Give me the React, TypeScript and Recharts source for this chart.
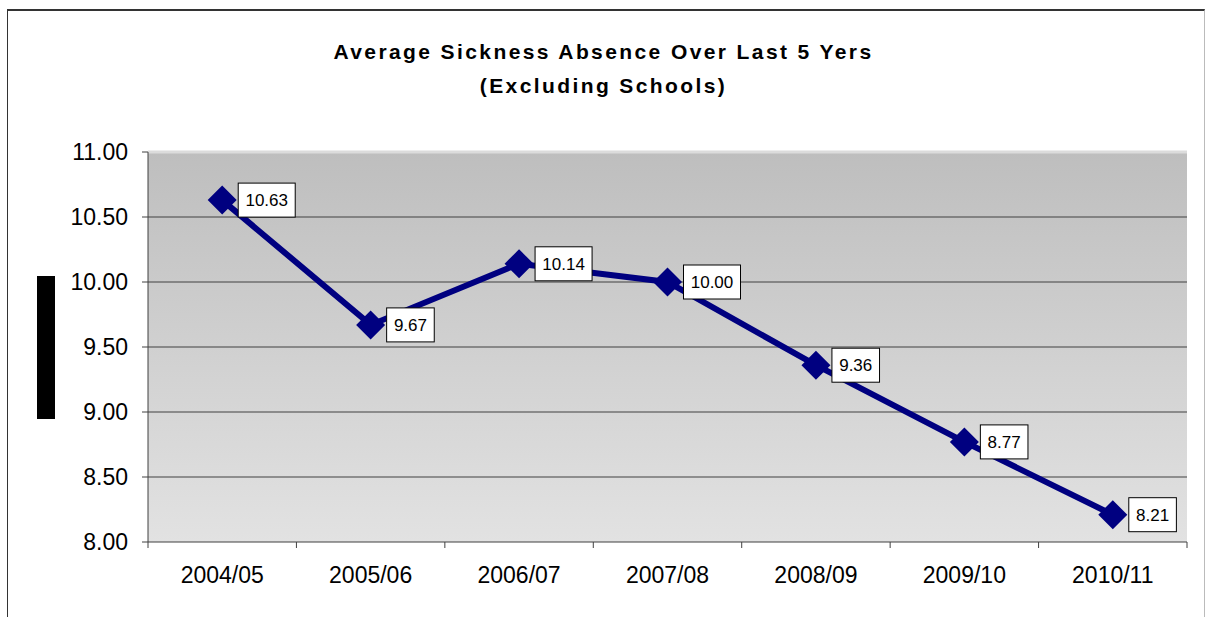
import React from 'react';
import { LineChart, Line, XAxis, YAxis, ReferenceArea, ReferenceLine, LabelList } from 'recharts';

const categories = ['2004/05', '2005/06', '2006/07', '2007/08', '2008/09', '2009/10', '2010/11'];
const absence = [10.63, 9.67, 10.14, 10.0, 9.36, 8.77, 8.21];
const yTicks = [8, 8.5, 9, 9.5, 10, 10.5, 11];
const titleLines = ['Average Sickness Absence Over Last 5 Yers', '(Excluding Schools)'];

const data = categories.map((c, i) => ({ i, cat: c, v: absence[i] }));
const xTicks: number[] = [];
for (let k = 0; k <= categories.length * 2; k++) xTicks.push(-0.5 + k * 0.5);
const gridValues = yTicks.slice(1, -1);

const FONT = '"Liberation Sans", Arial, sans-serif';
const NAVY = '#000080';

const XTick = (props: any) => {
  const { x, y, payload } = props;
  const v = payload.value as number;
  const axisY = y - 8;
  if (Math.abs(v - Math.round(v)) > 0.01) {
    return <line x1={x} x2={x} y1={axisY} y2={axisY + 6} stroke="#404040" strokeWidth={1} />;
  }
  return (
    <text x={x} y={y + 33} textAnchor="middle" fontSize={23} fontFamily={FONT} fill="#000">
      {categories[Math.round(v)]}
    </text>
  );
};

const Diamond = (props: any) => {
  const { cx, cy } = props;
  if (cx == null || cy == null) return null;
  const r = 14.5;
  return <polygon points={`${cx},${cy - r} ${cx + r},${cy} ${cx},${cy + r} ${cx - r},${cy}`} fill={NAVY} />;
};

const BoxLabel = (props: any) => {
  const { x, y, value } = props;
  const s = Number(value).toFixed(2);
  const w = s.length * 9.4 + 10;
  const h = 34;
  const bx = x + 16;
  return (
    <g>
      <rect x={bx} y={y - h / 2} width={w} height={h} fill="#fff" stroke="#000" strokeWidth={1} />
      <text x={bx + w / 2} y={y + 6} textAnchor="middle" fontSize={17} fontFamily={FONT} fill="#000">
        {s}
      </text>
    </g>
  );
};

export default function App() {
  return (
    <div style={{ position: 'absolute', left: 0, top: 0, width: 1207, height: 617, background: '#fff', overflow: 'hidden' }}>
      <div
        style={{
          position: 'absolute',
          left: 7,
          top: 9,
          width: 1198,
          height: 640,
          borderLeft: '1px solid #333',
          borderTop: '2px solid #333',
          borderRight: '1px solid #bbb',
          boxSizing: 'border-box',
        }}
      />
      <div
        style={{
          position: 'absolute',
          left: 0,
          top: 35,
          width: 1207,
          textAlign: 'center',
          fontFamily: FONT,
          fontWeight: 'bold',
          fontSize: 21,
          letterSpacing: 2.4,
          lineHeight: '34px',
          color: '#000',
        }}
      >
        {titleLines.map((t) => (
          <div key={t}>{t}</div>
        ))}
      </div>
      <div style={{ position: 'absolute', left: 37, top: 276, width: 18, height: 143, background: '#000' }} />
      <div style={{ position: 'absolute', left: 0, top: 0 }}>
        <LineChart width={1207} height={617} data={data} margin={{ top: 152, right: 20, left: 88, bottom: 35 }}>
          <defs>
            <linearGradient id="bg" x1="0" y1="0" x2="0" y2="1">
              <stop offset="0%" stopColor="#bebebe" />
              <stop offset="100%" stopColor="#e2e2e2" />
            </linearGradient>
          </defs>
          <ReferenceArea y1={8} y2={11} fill="url(#bg)" fillOpacity={1} stroke="none" ifOverflow="visible" />
          {gridValues.map((g) => (
            <ReferenceLine key={g} y={g} stroke="#404040" strokeWidth={1} />
          ))}
          <ReferenceLine y={11} stroke="#dcdcdc" strokeWidth={3} />
          <XAxis
            dataKey="i"
            type="number"
            domain={[-0.5, categories.length - 0.5]}
            ticks={xTicks}
            interval={0}
            tickLine={false}
            tickSize={6}
            tickMargin={2}
            height={40}
            tick={<XTick />}
            axisLine={{ stroke: '#404040', strokeWidth: 1 }}
            allowDecimals
          />
          <YAxis
            domain={[8, 11]}
            ticks={yTicks}
            interval={0}
            width={60}
            tickSize={6}
            tickMargin={14}
            tickFormatter={(v: number) => v.toFixed(2)}
            tick={{ fontSize: 23, fontFamily: FONT, fill: '#000' }}
            tickLine={{ stroke: '#404040' }}
            axisLine={{ stroke: '#404040', strokeWidth: 1 }}
          />
          <Line
            dataKey="v"
            stroke={NAVY}
            strokeWidth={6}
            dot={<Diamond />}
            activeDot={false}
            isAnimationActive={false}
          >
            <LabelList dataKey="v" content={<BoxLabel />} />
          </Line>
        </LineChart>
      </div>
    </div>
  );
}
